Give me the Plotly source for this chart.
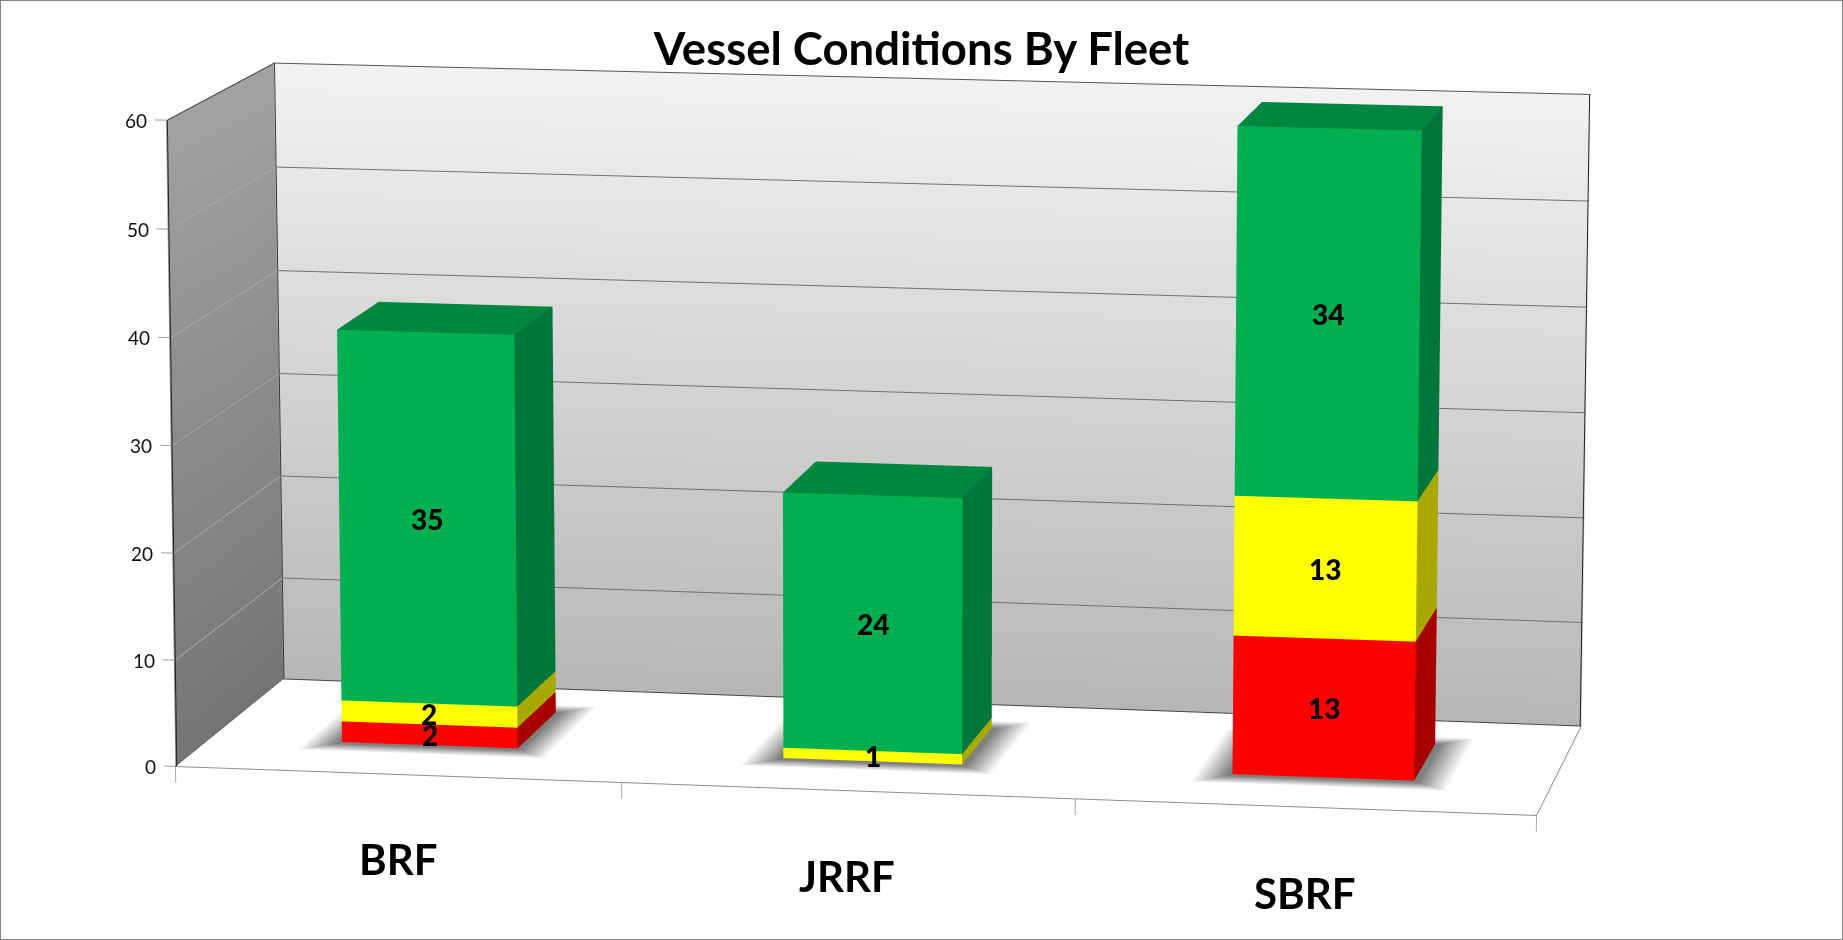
import plotly.graph_objects as go

categories = ["BRF", "JRRF", "SBRF"]
red_values = [2, 0, 13]
yellow_values = [2, 1, 13]
green_values = [35, 24, 34]
z_ticks = [0, 10, 20, 30, 40, 50, 60]
title_text = "Vessel Conditions By Fleet"

FRONT = {"red": "#FF0000", "yellow": "#FFFF00", "green": "#00B050"}
SIDE = {"red": "#A60000", "yellow": "#A8A800", "green": "#00763A"}
TOP = {"red": "#C00000", "yellow": "#CCCC00", "green": "#00873F"}
BAR_W, Y0, Y1 = 0.40, 0.33, 0.74
LIGHT = dict(ambient=1, diffuse=0, specular=0, roughness=1, fresnel=0)
X_RANGE, Y_RANGE, Z_RANGE = [-0.2, 3.1], [-0.3, 1.02], [-12, 60.5]
# Plotly's perspective camera has a fixed wide lens; the reference has a long one.
# Foreshortening is therefore applied to the scene coordinates, under an orthographic camera.
K_DEPTH, K_X, K_Z = 0.046, 0.0083, 0.00023

fig = go.Figure()


def persp(x, y, z):
    f = 1 - K_DEPTH * y + K_X * (x - 1.5) + K_Z * (z - 30)
    return 1.5 + (x - 1.5) * f, y, 30 + (z - 30) * f


def persp_all(xs, ys, zs):
    pts = [persp(a, b, c) for a, b, c in zip(xs, ys, zs)]
    return [p[0] for p in pts], [p[1] for p in pts], [p[2] for p in pts]


def quad_mesh(xs, ys, zs, colors, name):
    xs, ys, zs = persp_all(xs, ys, zs)
    fig.add_trace(go.Mesh3d(x=xs, y=ys, z=zs, i=[0, 0], j=[1, 2], k=[2, 3],
                            vertexcolor=colors, lighting=LIGHT, flatshading=False,
                            hoverinfo="skip", name=name, showscale=False))


def box(x0, x1, y0, y1, z0, z1, key):
    xs = [x0, x1, x1, x0, x0, x1, x1, x0]
    ys = [y0, y0, y1, y1, y0, y0, y1, y1]
    zs = [z0, z0, z0, z0, z1, z1, z1, z1]
    xs, ys, zs = persp_all(xs, ys, zs)
    i = [0, 0, 1, 1, 4, 4]
    j = [1, 5, 2, 6, 5, 6]
    k = [5, 4, 6, 5, 6, 7]
    fc = [FRONT[key]] * 2 + [SIDE[key]] * 2 + [TOP[key]] * 2
    fig.add_trace(go.Mesh3d(x=xs, y=ys, z=zs, i=i, j=j, k=k, facecolor=fc,
                            lighting=LIGHT, flatshading=True, hoverinfo="skip", showscale=False))


def line(xs, ys, zs, color, width=2):
    xs, ys, zs = persp_all(xs, ys, zs)
    fig.add_trace(go.Scatter3d(x=xs, y=ys, z=zs, mode="lines", hoverinfo="skip",
                               line=dict(color=color, width=width), showlegend=False))


def note(x, y, z, **kw):
    px, py, pz = persp(x, y, z)
    return dict(x=px, y=py, z=pz, showarrow=False, **kw)


# walls and floor
quad_mesh([0, 3, 3, 0], [1, 1, 1, 1], [0, 0, 60, 60], ["#B6B6B6", "#B6B6B6", "#F2F2F2", "#F2F2F2"], "back")
quad_mesh([0, 0, 0, 0], [0, 1, 1, 0], [0, 0, 60, 60], ["#757575", "#757575", "#A2A2A2", "#A2A2A2"], "side")
quad_mesh([0, 3, 3, 0], [0, 0, 1, 1], [0, 0, 0, 0], ["#FFFFFF"] * 4, "floor")

# gridlines
for t in z_ticks:
    if t > 0:
        line([0, 3], [0.995, 0.995], [t, t], "#707070" if t < 60 else "#555555")
        line([0.003, 0.003], [0, 1], [t, t], "#A8A8A8" if t < 60 else "#444444")
    line([-0.025, 0], [0, 0], [t, t], "#A0A0A0")
# edges
line([0.003, 0.003], [0.995, 0.995], [0, 60], "#333333")
line([2.998, 2.998], [0.995, 0.995], [0, 60], "#222222")
line([0.003, 0.003], [0, 0], [0, 60], "#222222")
line([0, 3], [0.995, 0.995], [0.05, 0.05], "#444444")
line([0, 0], [0, 1], [0.05, 0.05], "#444444")
line([0, 3], [0, 0], [0, 0], "#909090")
line([3, 3], [0, 1], [0, 0], "#909090")
for c in range(len(categories) + 1):
    line([c, c], [0, 0], [0, -1.5], "#A8A8A8")

annotations = []
for t in z_ticks:
    annotations.append(note(0, 0, t, text=str(t), xanchor="right", xshift=-17,
                            font=dict(family="Lato", size=19, color="#111111")))

for c, cat in enumerate(categories):
    cx = c + 0.5
    x0, x1 = cx - BAR_W / 2, cx + BAR_W / 2
    # soft shadow on the floor
    pad = 0.08
    sx = [x0 - pad, x1 + pad, x1 + pad, x0 - pad, x0 - .01, x1 + .01, x1 + .01, x0 - .01]
    sy = [Y0 - 0.1, Y0 - 0.1, Y1 + pad, Y1 + pad, Y0 - .02, Y0 - .02, Y1, Y1]
    px, py, pz = persp_all(sx, sy, [0.03] * 8)
    fig.add_trace(go.Mesh3d(x=px, y=py, z=pz,
                            i=[0, 0, 1, 1, 2, 2, 3, 3, 4, 4], j=[1, 5, 2, 6, 3, 7, 0, 4, 5, 6],
                            k=[5, 4, 6, 5, 7, 6, 4, 7, 6, 7],
                            vertexcolor=["#FFFFFF"] * 4 + ["#808080"] * 4,
                            lighting=LIGHT, hoverinfo="skip", showscale=False))
    base = 0
    for key, vals in (("red", red_values), ("yellow", yellow_values), ("green", green_values)):
        v = vals[c]
        if v > 0:
            box(x0, x1, Y0, Y1, base, base + v, key)
            annotations.append(note(cx, Y0, base + v / 2, text=str(v),
                                    font=dict(family="Lato", size=28, color="#000000", weight=900)))
        base += v
    annotations.append(note(c + 0.5, 0, -7.9, text="<b>%s</b>" % cat,
                            font=dict(family="Lato", size=42, color="#000000")))

K = 387.0
D = (0.1714, -0.9704, 0.170)
CEN = dict(x=0.15, y=0, z=0.0725)
EYE = 2.0
fig.update_layout(
    width=1843, height=940, margin=dict(l=0, r=0, t=0, b=0),
    paper_bgcolor="#FFFFFF", showlegend=False,
    title=dict(text=title_text, x=0.5, xanchor="center", y=0.948, yanchor="middle",
               font=dict(family="Lato", size=45.5, color="#000000", weight="bold")),
    shapes=[dict(type="rect", xref="paper", yref="paper", x0=0, y0=0, x1=1, y1=1,
                 line=dict(color="#868686", width=2))],
    scene=dict(
        domain=dict(x=[0, 1], y=[0, 1]),
        bgcolor="#FFFFFF",
        xaxis=dict(visible=False, range=X_RANGE),
        yaxis=dict(visible=False, range=Y_RANGE),
        zaxis=dict(visible=False, range=Z_RANGE),
        aspectmode="manual",
        aspectratio=dict(x=(X_RANGE[1] - X_RANGE[0]) * 382 / K,
                         y=(Y_RANGE[1] - Y_RANGE[0]) * 361 / K,
                         z=(Z_RANGE[1] - Z_RANGE[0]) * 9.11 / K),
        camera=dict(projection=dict(type="orthographic"),
                    up=dict(x=0, y=0, z=1),
                    center=CEN,
                    eye=dict(x=CEN["x"] + D[0] * EYE, y=CEN["y"] + D[1] * EYE, z=CEN["z"] + D[2] * EYE)),
        annotations=annotations,
    ),
)
fig.write_html("out.html", config=dict(displayModeBar=False),
               post_script="document.body.style.margin='0';document.documentElement.style.overflow='hidden';")
